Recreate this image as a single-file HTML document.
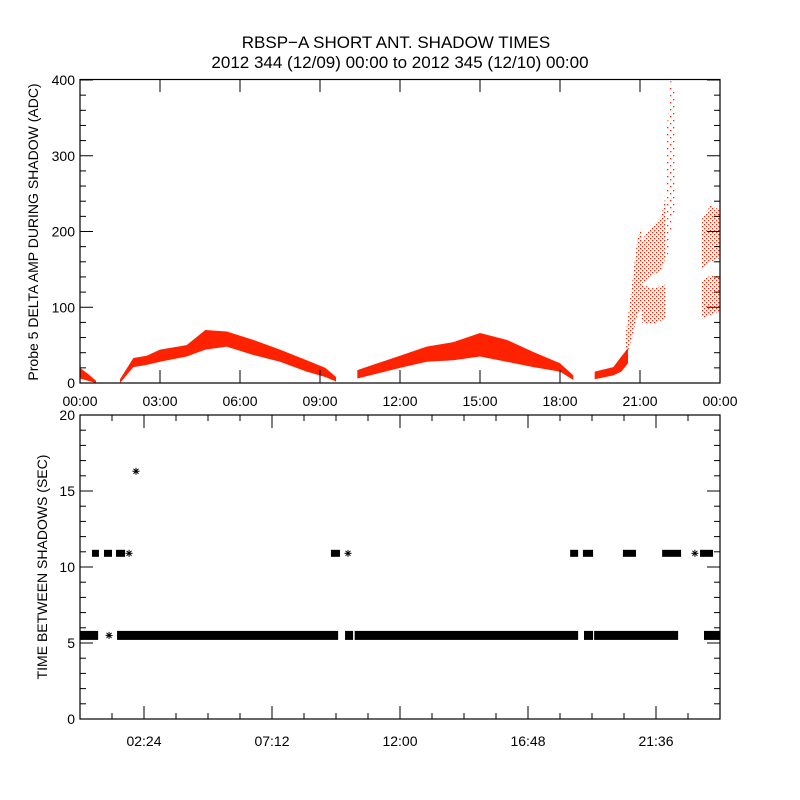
<!DOCTYPE html>
<html><head><meta charset="utf-8">
<style>
html,body{margin:0;padding:0;background:#fff;}
svg{display:block;font-family:"Liberation Sans",sans-serif;}
</style></head>
<body>
<svg id="chart" width="800" height="800" viewBox="0 0 800 800" xmlns="http://www.w3.org/2000/svg">
<defs>
<pattern id="dots" width="4" height="4" patternUnits="userSpaceOnUse">
<rect x="0" y="0" width="1.3" height="1.3" fill="#ff2200"/>
<rect x="2" y="2" width="1.3" height="1.3" fill="#ff2200"/>
</pattern>
<pattern id="sparse" width="6" height="7" patternUnits="userSpaceOnUse">
<rect x="1" y="1" width="1.3" height="1.3" fill="#ff2200"/>
<rect x="4" y="4" width="1.3" height="1.3" fill="#ff2200"/>
</pattern>
</defs>
<text x="396" y="48" font-size="17" text-anchor="middle">RBSP−A SHORT ANT. SHADOW TIMES</text>
<text x="400" y="68" font-size="17" text-anchor="middle">2012 344 (12/09) 00:00 to 2012 345 (12/10) 00:00</text>
<text transform="translate(38,232) rotate(-90)" font-size="14" text-anchor="middle">Probe 5 DELTA AMP DURING SHADOW (ADC)</text>
<text transform="translate(47,567) rotate(-90)" font-size="14" text-anchor="middle">TIME BETWEEN SHADOWS (SEC)</text>
<g id="topPanel"></g>
<g id="botPanel"></g>
</svg>
<script>
// ---- top panel data (hours, ADC) ----
const bandHours = [
 [0,0.3,0.6],
 [1.5,2,2.5,3,4,4.7,5.5,6.5,7.5,8.5,9.2,9.6],
 [10.4,12,13,14,15,16,17,18,18.5],
 [19.3,20,20.3,20.55]
];
const bandLo = [
 [6,3,0],
 [0,21,24,28,35,44,48,37,28,15,8,2],
 [6,20,28,30,35,28,21,15,4],
 [5,10,15,26]
];
const bandHi = [
 [20,12,3],
 [5,33,36,44,50,70,68,57,44,30,20,8],
 [17,36,48,54,66,57,41,26,10],
 [15,21,35,46]
];
const cloudHours = [
 [20.45,20.7,20.9,21.05],
 [21.0,21.4,21.8,21.95],
 [21.05,21.5,21.95],
 [21.98,22.15,22.32],
 [23.3,23.65,24],
 [23.3,23.65,24]
];
const cloudLo = [
 [30,60,90,100],
 [130,140,150,165],
 [80,78,85],
 [150,200,230],
 [150,160,165],
 [85,90,95]
];
const cloudHi = [
 [60,130,190,205],
 [185,205,220,245],
 [130,125,130],
 [320,405,380],
 [215,235,228],
 [135,142,142]
];
const topYTicks = [0,100,200,300,400];
const topXLabels = ["00:00","03:00","06:00","09:00","12:00","15:00","18:00","21:00","00:00"];
// ---- bottom panel data (hours, seconds) ----
const runStart = [0,1.39,9.94,10.3,18.9,19.28,23.4];
const runEnd   = [0.68,9.68,10.24,18.68,19.24,22.43,24];
const runValue = [5.5,5.5,5.5,5.5,5.5,5.5,5.5];
const elevStart = [0.45,0.9,1.35,9.41,18.38,18.86,20.36,21.83,23.25];
const elevEnd   = [0.71,1.2,1.69,9.75,18.68,19.24,20.85,22.54,23.74];
const elevValue = [10.9,10.9,10.9,10.9,10.9,10.9,10.9,10.9,10.9];
const singleHours = [1.09,1.84,2.1,10.05,23.06];
const singleValues = [5.5,10.9,16.3,10.9,10.9];
const botYTicks = [0,5,10,15,20];
const botXLabels = ["02:24","07:12","12:00","16:48","21:36"];

const NS="http://www.w3.org/2000/svg";
const L=80,R=720;
const X=h=>L+h*(R-L)/24;
const Yt=v=>383-v*303/400;
const Yb=v=>719-v*304/20;
function mk(tag,attrs,parent){const e=document.createElementNS(NS,tag);for(const k in attrs)e.setAttribute(k,attrs[k]);parent.appendChild(e);return e;}
const topG=document.getElementById('topPanel'), botG=document.getElementById('botPanel');

bandHours.forEach((hs,i)=>{
 const pts=hs.map((h,j)=>X(h)+','+Yt(bandHi[i][j])).concat(hs.slice().reverse().map((h,j)=>X(h)+','+Yt(bandLo[i][hs.length-1-j])));
 const p=mk('polygon',{points:pts.join(' '),fill:'#ff2200'},topG);
 
 
});
cloudHours.forEach((hs,i)=>{
 const pts=hs.map((h,j)=>X(h)+','+Yt(cloudHi[i][j])).concat(hs.slice().reverse().map((h,j)=>X(h)+','+Yt(cloudLo[i][hs.length-1-j])));
 const p=mk('polygon',{points:pts.join(' '),fill:(i==3?'url(#sparse)':'url(#dots)')},topG);
 
 
});
const fr=mk('rect',{x:L,y:79.5,width:R-L,height:303.5,fill:'none',stroke:'#000','stroke-width':1.2},topG);


for(let v=0;v<=400;v+=20){
 const len=(v%100===0)?13:6;
 mk('line',{x1:L,x2:L+len,y1:Yt(v),y2:Yt(v),stroke:'#000'},topG);
 mk('line',{x1:R,x2:R-len,y1:Yt(v),y2:Yt(v),stroke:'#000'},topG);
}
topYTicks.forEach(v=>{
 const t=mk('text',{x:75,y:Yt(v)+5,'font-size':14,'text-anchor':'end'},topG);
 t.textContent=v;
 
 
});
topXLabels.forEach((s,i)=>{
 const x=X(i*3);
 mk('line',{x1:x,x2:x,y1:383,y2:370,stroke:'#000'},topG);
 mk('line',{x1:x,x2:x,y1:79.5,y2:92,stroke:'#000'},topG);
 const t=mk('text',{x:x,y:406,'font-size':14,'text-anchor':'middle'},topG);
 t.textContent=s;
 
 
});

const H=9;
runStart.forEach((s,i)=>{
 const r=mk('rect',{x:X(s),y:Yb(runValue[i])-H/2,width:X(runEnd[i])-X(s),height:H,fill:'#000'},botG);
 
 
});
elevStart.forEach((s,i)=>{
 const r=mk('rect',{x:X(s),y:Yb(elevValue[i])-3.5,width:X(elevEnd[i])-X(s),height:7,fill:'#000'},botG);
 
 
});
singleHours.forEach((h,i)=>{
 const cx=X(h),cy=Yb(singleValues[i]);
 const g=mk('g',{stroke:'#000','stroke-width':1},botG);
 
 
 mk('line',{x1:cx-3.5,x2:cx+3.5,y1:cy,y2:cy},g);
 mk('line',{x1:cx,x2:cx,y1:cy-3.5,y2:cy+3.5},g);
 mk('line',{x1:cx-2.5,x2:cx+2.5,y1:cy-2.5,y2:cy+2.5},g);
 mk('line',{x1:cx-2.5,x2:cx+2.5,y1:cy+2.5,y2:cy-2.5},g);
});
const fb=mk('rect',{x:L,y:415,width:R-L,height:304,fill:'none',stroke:'#000','stroke-width':1.2},botG);


for(let v=0;v<=20;v+=1){
 const len=(v%5===0)?13:6;
 mk('line',{x1:L,x2:L+len,y1:Yb(v),y2:Yb(v),stroke:'#000'},botG);
 mk('line',{x1:R,x2:R-len,y1:Yb(v),y2:Yb(v),stroke:'#000'},botG);
}
botYTicks.forEach(v=>{
 const t=mk('text',{x:75,y:Yb(v)+5,'font-size':14,'text-anchor':'end'},botG);
 t.textContent=v;
 
 
});
for(let k=1;k<20;k++){
 const x=L+k*32, len=(k%4===2)?13:6;
 mk('line',{x1:x,x2:x,y1:719,y2:719-len,stroke:'#000'},botG);
 mk('line',{x1:x,x2:x,y1:415,y2:415+len,stroke:'#000'},botG);
}
botXLabels.forEach((s,i)=>{
 const t=mk('text',{x:X(2.4+i*4.8),y:746,'font-size':14,'text-anchor':'middle'},botG);
 t.textContent=s;
 
 
});
</script>
</body></html>
